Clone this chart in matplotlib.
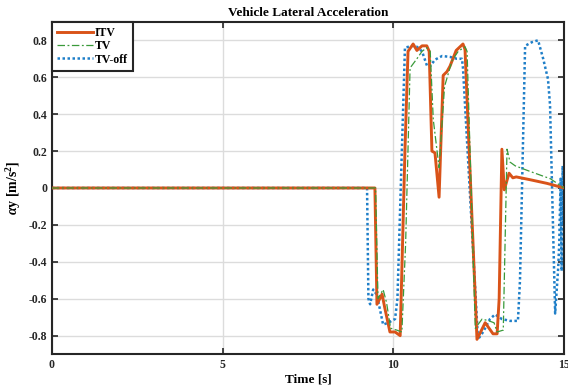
import numpy as np
import matplotlib
matplotlib.use("Agg")
import matplotlib.pyplot as plt

plt.rcParams['font.family'] = ['Liberation Serif', 'DejaVu Serif']
plt.rcParams['font.weight'] = 'bold'
plt.rcParams['mathtext.fontset'] = 'custom'
plt.rcParams['mathtext.rm'] = 'Liberation Serif:bold'
plt.rcParams['mathtext.it'] = 'Liberation Serif:italic:bold'

# ITV
t_itv = [0, 9.46, 9.52, 9.67, 9.75, 9.9, 10.05, 10.2, 10.34, 10.43, 10.58, 10.69,
         10.84, 10.98, 11.05, 11.13, 11.22, 11.34, 11.46, 11.57, 11.66, 11.84,
         12.04, 12.1, 12.45, 12.69, 12.92, 13.04, 13.1, 13.18, 13.25, 13.39,
         13.5, 13.6, 14.0, 14.5, 15.0]
a_itv = [0, 0, -0.63, -0.575, -0.65, -0.78, -0.78, -0.8, 0.2, 0.74, 0.78, 0.745,
         0.77, 0.77, 0.74, 0.2, 0.19, -0.05, 0.61, 0.63, 0.66, 0.745,
         0.78, 0.75, -0.82, -0.73, -0.79, -0.79, -0.6, 0.21, -0.01, 0.08,
         0.055, 0.06, 0.045, 0.025, 0.0]

# TV
t_tv = [0, 9.48, 9.55, 9.7, 9.8, 9.92, 10.1, 10.25, 10.36, 10.49, 10.69, 10.84,
        10.98, 11.08, 11.17, 11.34, 11.5, 11.72, 11.9, 12.1, 12.16, 12.4,
        12.6, 12.8, 12.95, 13.04, 13.22, 13.33, 13.42, 13.57, 14.0, 14.6, 15.0]
a_tv = [0, 0, -0.6, -0.55, -0.62, -0.76, -0.77, -0.78, -0.3, 0.65, 0.7, 0.74,
        0.76, 0.74, 0.37, 0.11, 0.55, 0.69, 0.74, 0.765, 0.74, -0.76,
        -0.71, -0.72, -0.73, -0.78, -0.77, 0.21, 0.14, 0.12, 0.09, 0.05, 0.0]

# TV-off
t_off = [0, 9.23, 9.27, 9.32, 9.41, 9.52, 9.7, 9.85, 10.05, 10.12, 10.34, 10.55,
         10.69, 10.84, 10.99, 11.08, 11.22, 11.43, 11.66, 11.86, 12.01, 12.04,
         12.48, 12.63, 12.83, 12.98, 13.18, 13.42, 13.65, 13.71, 13.86, 14.06,
         14.24, 14.39, 14.53, 14.59, 14.74, 14.83, 14.86, 14.9, 14.93, 14.96,
         14.99, 15.0]
a_off = [0, 0, -0.6, -0.63, -0.55, -0.58, -0.74, -0.73, -0.71, -0.6, 0.76, 0.77,
         0.765, 0.74, 0.66, 0.66, 0.695, 0.715, 0.71, 0.7, 0.7, 0.65,
         -0.82, -0.78, -0.71, -0.685, -0.71, -0.72, -0.72, -0.5, 0.77, 0.79,
         0.8, 0.7, 0.59, 0.45, -0.68, -0.43, -0.3, 0.05, -0.45, 0.12,
         -0.2, 0.0]

fig = plt.figure(figsize=(5.68, 3.9), dpi=100)
ax = fig.add_axes([0.0915, 0.092, 0.9015, 0.852])

ax.plot(t_itv, a_itv, color='#D95319', lw=2.1, label='ITV', zorder=3)
ax.plot(t_tv, a_tv, color='#3a9a3a', lw=0.9, ls=(0, (6, 2, 1.5, 2)), label='TV', zorder=4)
ax.plot(t_off, a_off, color='#1f7fc8', lw=1.8, ls=(0, (1, 1)), label='TV-off', zorder=2)

ax.set_xlim(0, 15)
ax.set_ylim(-0.9, 0.9)
ax.set_xticks([0, 5, 10, 15])
ax.set_yticks(np.round(np.arange(-0.8, 0.81, 0.2), 1))
ax.set_yticklabels(['-0.8', '-0.6', '-0.4', '-0.2', '0', '0.2', '0.4', '0.6', '0.8'])
ax.grid(True, color='#dcdcdc', lw=1.0)
ax.set_axisbelow(True)
ax.tick_params(direction='in', length=4, width=1.2, top=True, right=True, labelsize=8.5, colors='#262626')
for s in ax.spines.values():
    s.set_linewidth(1.5)
    s.set_color('#262626')

ax.set_title('Vehicle Lateral Acceleration', fontsize=9.5, fontweight='bold', pad=4)
ax.set_xlabel('Time [s]', fontsize=9.5, fontweight='bold', labelpad=2)
ax.set_ylabel(r'$\alpha$y [m/s$^2$]', fontsize=10, fontweight='bold', labelpad=4)

leg = ax.legend(loc='upper left', borderaxespad=0, fontsize=8.5, handlelength=3.0,
                handletextpad=0.15, labelspacing=0.1, borderpad=0.45, fancybox=False,
                framealpha=1, edgecolor='#262626')
leg.get_frame().set_linewidth(1.5)
for txt in leg.get_texts():
    txt.set_fontweight('bold')

fig.savefig('out.png', dpi=100)
